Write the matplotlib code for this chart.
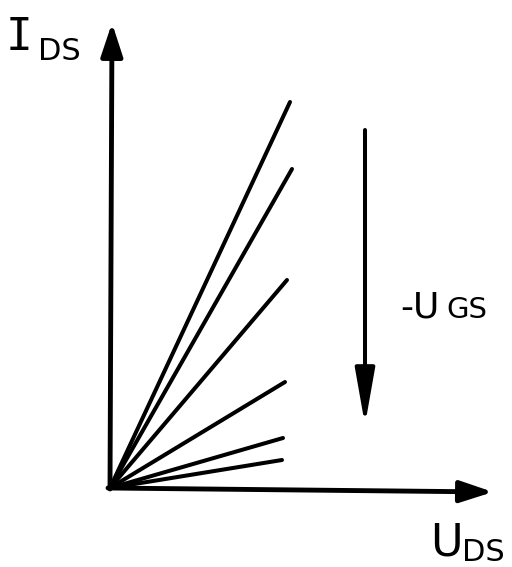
#Kennlinienfeld eines FET: I_DS ueber U_DS fuer verschiedene U_GS

import matplotlib.pyplot as plt
import numpy as np

#Endpunkte der Kennlinien (U_DS, I_DS), vom groessten zum kleinsten Strom
u_end = [1.80, 1.82, 1.77, 1.75, 1.73, 1.72]
i_end = [3.86, 3.19, 2.08, 1.06, 0.50, 0.28]

fig = plt.figure(figsize=(5.12, 5.67), dpi=100)
ax = fig.add_axes([0, 0, 1, 1])
ax.set_xlim(-1.10, 4.02)
ax.set_ylim(-0.79, 4.88)
ax.axis("off")

#Kennlinien, alle durch den Ursprung
for u, i in zip(u_end, i_end):
    ax.plot([0, u], [0, i], color="black", lw=2.9, solid_capstyle="round")

#Achsen mit Pfeilspitzen
pfeil = dict(arrowstyle="-|>,head_length=1.0,head_width=0.33", color="black",
             lw=3.5, mutation_scale=20, shrinkA=0, shrinkB=0)
ax.annotate("", xy=(0.02, 4.65), xytext=(0, -0.01), arrowprops=pfeil)
ax.annotate("", xy=(3.83, -0.04), xytext=(-0.02, 0), arrowprops=pfeil)

#Pfeil fuer steigendes -U_GS
pfeil2 = dict(arrowstyle="-|>,head_length=1.7,head_width=0.3", color="black",
              lw=2.9, mutation_scale=20, shrinkA=0, shrinkB=0)
ax.annotate("", xy=(2.55, 0.63), xytext=(2.55, 3.58), arrowprops=pfeil2)

#Beschriftungen
ax.text(-1.04, 4.38, "I", family="DejaVu Sans Mono", fontsize=32,
        ha="left", va="baseline")
ax.text(-0.72, 4.28, "DS", fontsize=22, ha="left", va="baseline")
ax.text(3.20, -0.67, "U", fontsize=32, ha="left", va="baseline")
ax.text(3.52, -0.73, "DS", fontsize=22, ha="left", va="baseline")
ax.text(2.90, 1.70, "-U", fontsize=26, ha="left", va="baseline")
ax.text(3.36, 1.70, "GS", fontsize=21, ha="left", va="baseline")

fig.savefig("out.png", dpi=100)
